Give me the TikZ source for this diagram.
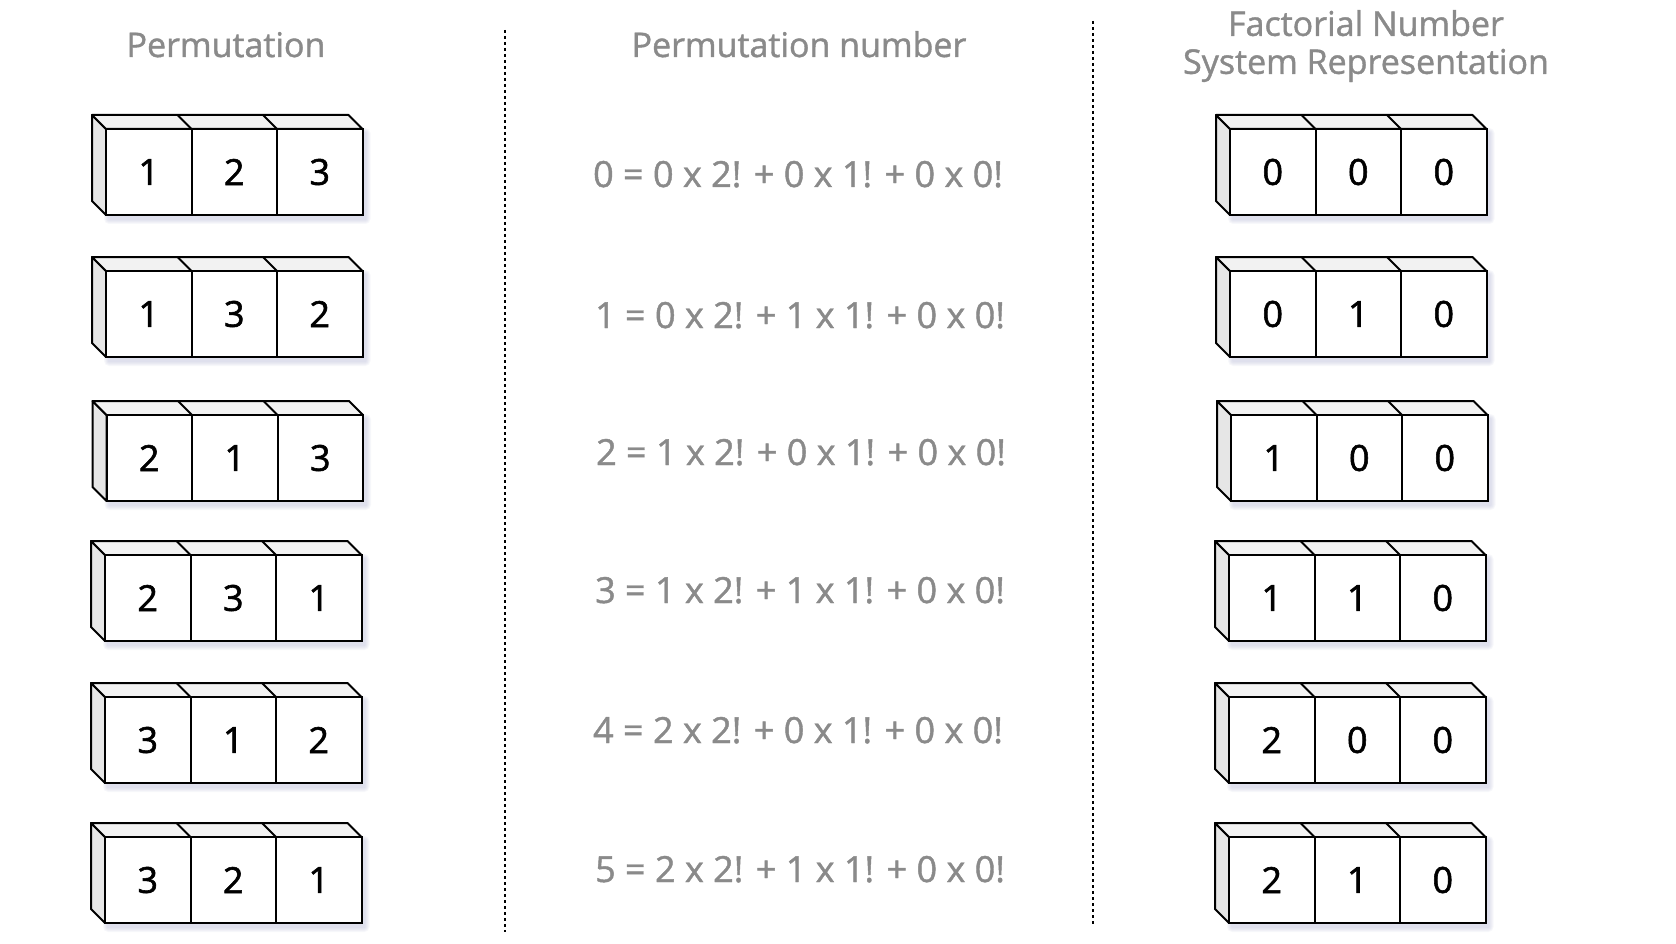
\documentclass[tikz,border=0pt]{standalone}
\usepackage{fontspec}
\setmainfont{Open Sans}
\newfontfamily\boldish[FakeBold=1.6]{Open Sans}
\newfontfamily\midish[FakeBold=1.2]{Open Sans}
\definecolor{sidegray}{HTML}{E6E6E6}
\definecolor{topgray}{HTML}{F2F2F2}
\definecolor{txtgray}{HTML}{8A8A8A}
\definecolor{shadowblue}{HTML}{9FA3C8}
\tikzset{
  cellbox/.style={draw=black, line width=2pt, fill=white, minimum width=85.5pt,
    minimum height=86pt, inner sep=0pt, font=\boldish\fontsize{36}{40}\selectfont, text=black},
  face/.style={draw=black, line width=2pt, line join=round},
  hdr/.style={text=txtgray, font=\midish\fontsize{34}{38}\selectfont, align=center, inner sep=0pt},
  formula/.style={text=txtgray, font=\midish\fontsize{36}{40}\selectfont, inner sep=0pt, anchor=base},
  sepline/.style={draw=black, line width=2pt, dash pattern=on 3pt off 3pt},
}
\newcommand\boxrow[6]{%
  \begin{scope}[shift={(#2,#3)}]
    \foreach \k in {1,...,5} {
      \fill[shadowblue, opacity=0.08, rounded corners=\k pt] (3-\k, 4-\k) rectangle (259.5+\k, 90+\k);
    }
    \filldraw[face, fill=sidegray] (0,0) -- (-14,-14) -- (-14,72) -- (0,86) -- cycle;
    \filldraw[face, fill=topgray] (0,0) -- (-14,-14) -- (242.5,-14) -- (256.5,0) -- cycle;
    \draw[face] (85.5,0) -- (71.5,-14) (171,0) -- (157,-14);
    \node[cellbox] (#1a) at (42.75,43) {#4};
    \node[cellbox] (#1b) at (128.25,43) {#5};
    \node[cellbox] (#1c) at (213.75,43) {#6};
  \end{scope}
}
\begin{document}
\begin{tikzpicture}[x=1pt, y=-1pt]
  \useasboundingbox (0,0) rectangle (1676,944);
  % headers
  \node[hdr, anchor=base] (h1) at (226,57) {Permutation};
  \node[hdr, anchor=base] (h2) at (799,57) {Permutation number};
  \node[hdr, anchor=center] (h3) at (1366,46) {Factorial Number\\System Representation};
  % separators
  \coordinate (s1t) at (504.5,30);
  \coordinate (s1b) at (504.5,932);
  \coordinate (s2t) at (1092.5,21);
  \coordinate (s2b) at (1092.5,926);
  \draw[sepline] (s1t) -- (s1b);
  \draw[sepline] (s2t) -- (s2b);
  % permutations
  \boxrow{p1}{106}{129}{1}{2}{3}
  \boxrow{p2}{106}{271}{1}{3}{2}
  \boxrow{p3}{106.5}{415}{2}{1}{3}
  \boxrow{p4}{105}{555}{2}{3}{1}
  \boxrow{p5}{105}{697}{3}{1}{2}
  \boxrow{p6}{105}{837}{3}{2}{1}
  % factorial representations
  \boxrow{f1}{1230}{129}{0}{0}{0}
  \boxrow{f2}{1230}{271}{0}{1}{0}
  \boxrow{f3}{1231}{415}{1}{0}{0}
  \boxrow{f4}{1229}{555}{1}{1}{0}
  \boxrow{f5}{1229}{697}{2}{0}{0}
  \boxrow{f6}{1229}{837}{2}{1}{0}
  % formulas
  \node[formula] (e1) at (798,187) {0 = 0 x 2! + 0 x 1! + 0 x 0!};
  \node[formula] (e2) at (800,328) {1 = 0 x 2! + 1 x 1! + 0 x 0!};
  \node[formula] (e3) at (801,465) {2 = 1 x 2! + 0 x 1! + 0 x 0!};
  \node[formula] (e4) at (800,603) {3 = 1 x 2! + 1 x 1! + 0 x 0!};
  \node[formula] (e5) at (798,743) {4 = 2 x 2! + 0 x 1! + 0 x 0!};
  \node[formula] (e6) at (800,882) {5 = 2 x 2! + 1 x 1! + 0 x 0!};
\end{tikzpicture}
\end{document}
